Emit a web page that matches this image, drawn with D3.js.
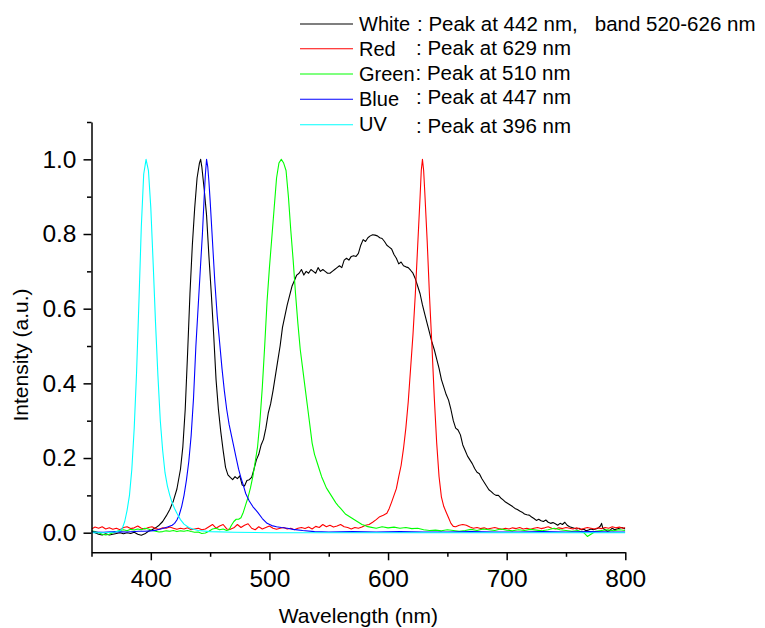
<!DOCTYPE html>
<html><head><meta charset="utf-8">
<script src="https://cdn.jsdelivr.net/npm/d3@7/dist/d3.min.js"></script>
<style>
body{margin:0;background:#fff}
svg text{font-family:"Liberation Sans",Arial,Helvetica,sans-serif;fill:#000}
</style>
</head><body>
<svg id="chart" width="765" height="628"></svg>
<script>
// ---------- DATA (wavelength nm, normalised intensity) ----------
const whiteSpectrum = [[350,0.005],[353,0],[356,-0.004],[359,-0.006],[362,-0.003],[365,-0.006],[368,-0.004],[371,-0.002],[374,0],[377,-0.003],[380,0],[383,-0.002],[386,0.001],[389,-0.004],[392,-0.007],[395,-0.003],[398,0.004],[401,0.008],[404,0.013],[407,0.02],[410,0.03],[413,0.045],[416,0.062],[419,0.085],[422,0.117],[425,0.17],[427,0.23],[429,0.33],[431,0.48],[433,0.64],[435,0.77],[437,0.87],[439,0.95],[441,0.99],[442,1.0],[443,0.98],[445,0.92],[447,0.85],[449,0.74],[451,0.64],[453,0.53],[455,0.41],[457,0.33],[459,0.27],[461,0.22],[463,0.175],[465,0.155],[467,0.148],[469,0.142],[471,0.15],[473,0.145],[475,0.152],[477,0.128],[479,0.125],[481,0.14],[483,0.142],[485,0.148],[487,0.17],[489,0.195],[491,0.21],[493,0.235],[495,0.25],[497,0.28],[499,0.32],[501,0.345],[503,0.38],[505,0.42],[507,0.46],[509,0.5],[511,0.55],[513,0.58],[515,0.61],[517,0.635],[519,0.66],[521,0.675],[523,0.69],[525,0.695],[527,0.705],[529,0.69],[531,0.7],[533,0.695],[535,0.705],[537,0.7],[539,0.695],[541,0.71],[543,0.7],[545,0.705],[547,0.7],[549,0.695],[551,0.695],[553,0.7],[555,0.705],[557,0.71],[559,0.715],[561,0.71],[563,0.73],[565,0.735],[567,0.73],[569,0.74],[571,0.742],[573,0.74],[575,0.748],[577,0.77],[579,0.785],[581,0.78],[583,0.79],[585,0.795],[587,0.798],[589,0.797],[591,0.795],[593,0.79],[595,0.788],[597,0.78],[599,0.77],[601,0.765],[603,0.76],[605,0.745],[607,0.735],[609,0.72],[611,0.725],[613,0.715],[615,0.712],[617,0.71],[619,0.703],[621,0.695],[623,0.68],[625,0.66],[627,0.64],[629,0.61],[631,0.585],[633,0.56],[635,0.535],[637,0.51],[639,0.49],[641,0.465],[643,0.44],[645,0.41],[647,0.39],[649,0.37],[651,0.355],[653,0.33],[655,0.3],[657,0.28],[659,0.275],[661,0.262],[663,0.235],[665,0.22],[667,0.205],[669,0.195],[671,0.185],[673,0.172],[675,0.162],[677,0.158],[679,0.145],[681,0.135],[683,0.125],[685,0.115],[687,0.11],[689,0.104],[691,0.1],[693,0.1],[695,0.093],[697,0.088],[699,0.082],[701,0.078],[703,0.074],[705,0.07],[707,0.065],[709,0.062],[711,0.058],[713,0.055],[715,0.05],[717,0.048],[719,0.047],[721,0.042],[723,0.038],[725,0.033],[727,0.036],[729,0.032],[731,0.03],[733,0.034],[735,0.028],[737,0.025],[739,0.027],[741,0.024],[743,0.02],[745,0.025],[747,0.022],[749,0.028],[751,0.02],[753,0.016],[755,0.014],[757,0.012],[759,0.01],[761,0.012],[763,0.008],[765,0.009],[767,0.005],[769,0.007],[771,0.01],[773,0.008],[775,0.01],[777,0.012],[779,0.018],[780,0.025],[781,0.012],[783,0.008],[785,0.004],[787,0.006],[789,0.012],[791,0.008],[793,0.01],[795,0.012],[797,0.014],[800,0.01]];

const redSpectrum = [[350,0.01],[353,0.015],[356,0.012],[359,0.016],[362,0.01],[365,0.013],[368,0.009],[371,0.012],[374,0.008],[377,0.014],[380,0.016],[383,0.011],[386,0.013],[389,0.018],[392,0.012],[395,0.01],[398,0.014],[401,0.016],[404,0.011],[407,0.009],[410,0.013],[413,0.012],[416,0.015],[419,0.012],[422,0.009],[425,0.012],[428,0.01],[431,0.013],[434,0.008],[437,0.01],[440,0.012],[443,0.008],[446,0.01],[449,0.016],[452,0.022],[455,0.012],[458,0.018],[461,0.022],[464,0.01],[467,0.009],[470,0.013],[473,0.022],[476,0.014],[479,0.02],[482,0.024],[485,0.012],[488,0.008],[491,0.016],[494,0.01],[497,0.014],[500,0.018],[503,0.012],[506,0.009],[509,0.012],[512,0.014],[515,0.01],[518,0.012],[521,0.008],[524,0.012],[527,0.014],[530,0.011],[533,0.015],[536,0.01],[539,0.017],[542,0.014],[545,0.022],[548,0.016],[551,0.02],[554,0.015],[557,0.018],[560,0.022],[563,0.016],[566,0.014],[569,0.01],[572,0.014],[575,0.012],[578,0.015],[581,0.02],[584,0.022],[587,0.028],[590,0.035],[593,0.043],[596,0.047],[599,0.052],[601,0.065],[603,0.082],[605,0.1],[607,0.118],[609,0.15],[611,0.18],[613,0.225],[615,0.28],[617,0.35],[619,0.44],[621,0.53],[623,0.64],[625,0.77],[627,0.9],[628,0.97],[629,1.0],[630,0.97],[631,0.91],[633,0.78],[635,0.63],[637,0.5],[639,0.36],[641,0.24],[643,0.15],[645,0.095],[647,0.07],[649,0.055],[651,0.04],[653,0.025],[655,0.017],[657,0.016],[660,0.02],[663,0.022],[666,0.02],[669,0.015],[672,0.012],[675,0.014],[678,0.011],[681,0.013],[684,0.01],[687,0.012],[690,0.014],[693,0.011],[696,0.009],[699,0.012],[702,0.01],[705,0.013],[708,0.011],[711,0.014],[714,0.01],[717,0.012],[720,0.009],[723,0.012],[726,0.014],[729,0.011],[732,0.013],[735,0.016],[738,0.012],[741,0.01],[744,0.013],[747,0.011],[750,0.014],[753,0.012],[756,0.01],[759,0.013],[762,0.009],[765,0.011],[768,0.014],[771,0.012],[774,0.01],[777,0.013],[780,0.011],[783,0.014],[786,0.012],[789,0.016],[792,0.013],[795,0.015],[798,0.012],[800,0.014]];

const greenSpectrum = [[350,0.005],[353,0.003],[356,0],[359,-0.004],[362,-0.006],[365,-0.004],[368,0],[371,0.003],[374,0.006],[377,0.008],[380,0.005],[383,0.009],[386,0.007],[389,0.01],[392,0.008],[395,0.012],[398,0.01],[401,0.006],[404,0.004],[407,0.002],[410,0.003],[413,0.005],[416,0.004],[419,0.006],[422,0.003],[425,0.005],[428,0.004],[431,0.006],[434,0.003],[437,0.001],[440,0.002],[443,-0.002],[446,-0.001],[449,0.004],[452,0.01],[455,0.012],[458,0.008],[461,0.01],[464,0.006],[466,0.008],[468,0.02],[470,0.03],[472,0.036],[474,0.036],[476,0.04],[478,0.055],[480,0.075],[482,0.095],[484,0.12],[486,0.15],[488,0.19],[490,0.23],[492,0.3],[494,0.39],[496,0.5],[498,0.62],[500,0.71],[502,0.79],[504,0.87],[506,0.95],[508,0.99],[510,1.0],[512,0.99],[514,0.97],[516,0.9],[518,0.81],[520,0.73],[522,0.64],[524,0.56],[526,0.49],[528,0.44],[530,0.39],[532,0.34],[534,0.29],[536,0.24],[538,0.21],[540,0.19],[542,0.17],[544,0.15],[546,0.135],[548,0.12],[550,0.11],[552,0.1],[554,0.09],[556,0.08],[558,0.072],[560,0.065],[562,0.058],[564,0.05],[566,0.046],[568,0.042],[570,0.038],[572,0.034],[574,0.03],[576,0.026],[578,0.022],[580,0.02],[582,0.017],[585,0.015],[590,0.012],[595,0.016],[600,0.013],[605,0.015],[610,0.012],[615,0.014],[620,0.011],[625,0.012],[630,0.008],[635,0.006],[640,0.007],[645,0.005],[650,0.008],[655,0.006],[660,0.004],[665,0.006],[670,0.009],[675,0.006],[680,0.01],[685,0.008],[690,0.006],[695,0.01],[700,0.007],[705,0.005],[710,0.008],[715,0.006],[720,0.009],[725,0.007],[730,0.005],[735,0.008],[740,0.012],[745,0.008],[750,0.006],[755,0.004],[760,0.006],[765,0],[768,-0.01],[771,-0.004],[775,0.004],[780,0.006],[785,0.008],[790,0.005],[795,0.008],[800,0.006]];

const blueSpectrum = [[350,0.002],[360,0.001],[370,0.003],[380,0.002],[390,0.004],[395,0.004],[400,0.005],[405,0.007],[410,0.011],[414,0.015],[418,0.02],[420,0.025],[422,0.034],[424,0.048],[426,0.07],[428,0.1],[430,0.14],[432,0.19],[434,0.26],[436,0.36],[438,0.5],[440,0.61],[442,0.72],[443.5,0.8],[445,0.9],[446,0.96],[447,1.0],[448,0.98],[449,0.94],[450,0.89],[452,0.78],[454,0.67],[456,0.58],[458,0.51],[460,0.44],[462,0.38],[464,0.33],[466,0.29],[468,0.26],[470,0.23],[472,0.2],[474,0.17],[476,0.147],[478,0.127],[480,0.105],[483,0.085],[486,0.07],[490,0.055],[494,0.038],[498,0.025],[502,0.019],[506,0.016],[510,0.014],[515,0.012],[520,0.009],[528,0.006],[538,0.003],[550,0.002],[570,0.003],[590,0.002],[610,0.003],[630,0.002],[650,0.002],[670,0.003],[690,0.002],[710,0.002],[730,0.003],[750,0.002],[770,0.003],[790,0.002],[800,0.002]];

const uvSpectrum = [[350,0],[360,0],[366,0.001],[370,0.002],[374,0.005],[376,0.012],[378,0.03],[380,0.06],[382,0.1],[384,0.17],[386,0.28],[388,0.43],[390,0.62],[392,0.82],[394,0.96],[396,1.0],[398,0.97],[400,0.87],[402,0.72],[404,0.56],[406,0.42],[408,0.3],[410,0.22],[412,0.16],[414,0.125],[416,0.1],[418,0.08],[420,0.065],[422,0.052],[425,0.035],[428,0.023],[432,0.014],[436,0.009],[440,0.006],[450,0.003],[470,0.001],[500,0],[800,0]];

const seriesNames = ["White","Red","Green","Blue","UV"];
const seriesNotes = [": Peak at 442 nm,   band 520-626 nm", ": Peak at 629 nm", ": Peak at 510 nm", ": Peak at 447 nm", ": Peak at 396 nm"];
const seriesColors = ["#000000","#ff0000","#00ff00","#0000ff","#00ffff"];
const xMajorTicks = [400,500,600,700,800];
const xMinorTicks = [350,450,550,650,750];
const yMajorTicks = [0,0.2,0.4,0.6,0.8,1.0];
const yMinorTicks = [0.1,0.3,0.5,0.7,0.9,1.1];
const xTitle = "Wavelength (nm)";
const yTitle = "Intensity (a.u.)";

// ---------- DRAW ----------
const svg = d3.select("#chart");
const x = d3.scaleLinear().domain([350,800]).range([91.5,625.3]);
const y = d3.scaleLinear().domain([-0.0525,1.1]).range([552.3,122]);

const spectra = [whiteSpectrum, redSpectrum, greenSpectrum, blueSpectrum, uvSpectrum];
const line = d3.line().x(d => x(d[0])).y(d => y(d[1]));

svg.append("defs").append("clipPath").attr("id","plotclip")
  .append("rect").attr("x",x(350)).attr("y",y(1.1)).attr("width",x(800)-x(350)).attr("height",y(-0.0525)-y(1.1));

const plot = svg.append("g").attr("clip-path","url(#plotclip)");
spectra.forEach((s,i) => {
  plot.append("path").datum(s)
    .attr("fill","none").attr("stroke",seriesColors[i]).attr("stroke-width",1.1)
    .attr("stroke-linejoin","round").attr("d",line);
});

function styleAxis(g){
  g.select(".domain").attr("stroke","#000").attr("stroke-width",1.5);
  g.selectAll(".tick line").attr("stroke","#000").attr("stroke-width",1.5);
  g.selectAll("text").attr("font-size","24.5px").attr("font-family",'"Liberation Sans",Arial,sans-serif').attr("fill","#000");
}

const gx = svg.append("g").attr("transform",`translate(0,${y(-0.0525)})`)
  .call(d3.axisBottom(x).tickValues(xMajorTicks).tickFormat(d3.format("d")).tickSize(8).tickSizeOuter(0).tickPadding(9));
styleAxis(gx);
const gxm = svg.append("g").attr("transform",`translate(0,${y(-0.0525)})`)
  .call(d3.axisBottom(x).tickValues(xMinorTicks).tickFormat("").tickSize(4.5).tickSizeOuter(0));
styleAxis(gxm); gxm.select(".domain").remove();

const gy = svg.append("g").attr("transform",`translate(${x(350)},0)`)
  .call(d3.axisLeft(y).tickValues(yMajorTicks).tickFormat(d3.format(".1f")).tickSize(8).tickSizeOuter(0).tickPadding(7));
styleAxis(gy);
const gym = svg.append("g").attr("transform",`translate(${x(350)},0)`)
  .call(d3.axisLeft(y).tickValues(yMinorTicks).tickFormat("").tickSize(4.5).tickSizeOuter(0));
styleAxis(gym); gym.select(".domain").remove();

svg.append("text").attr("x",(x(350)+x(800))/2).attr("y",623).attr("text-anchor","middle")
  .attr("font-size","21px").text(xTitle);
svg.append("text").attr("transform","translate(27.5,355) rotate(-90)").attr("text-anchor","middle")
  .attr("font-size","21px").text(yTitle);

// legend
const legLineY = [24,48.7,74,99.3,124.7];
const legLabelY = [30.5,56,80.5,106,130.5];
const legNoteY = [30.5,55,79.5,103.5,133];
const legNoteX = [417,416,415.5,416,416];
const leg = svg.append("g");
seriesNames.forEach((n,i) => {
  leg.append("line").attr("x1",300).attr("x2",353).attr("y1",legLineY[i]).attr("y2",legLineY[i])
    .attr("stroke",seriesColors[i]).attr("stroke-width",1.1);
  leg.append("text").attr("x",359).attr("y",legLabelY[i]).attr("font-size","20px").text(n);
  leg.append("text").attr("x",legNoteX[i]).attr("y",legNoteY[i]).attr("font-size","20.5px")
    .style("white-space","pre").text(seriesNotes[i]);
});
</script>
</body></html>
